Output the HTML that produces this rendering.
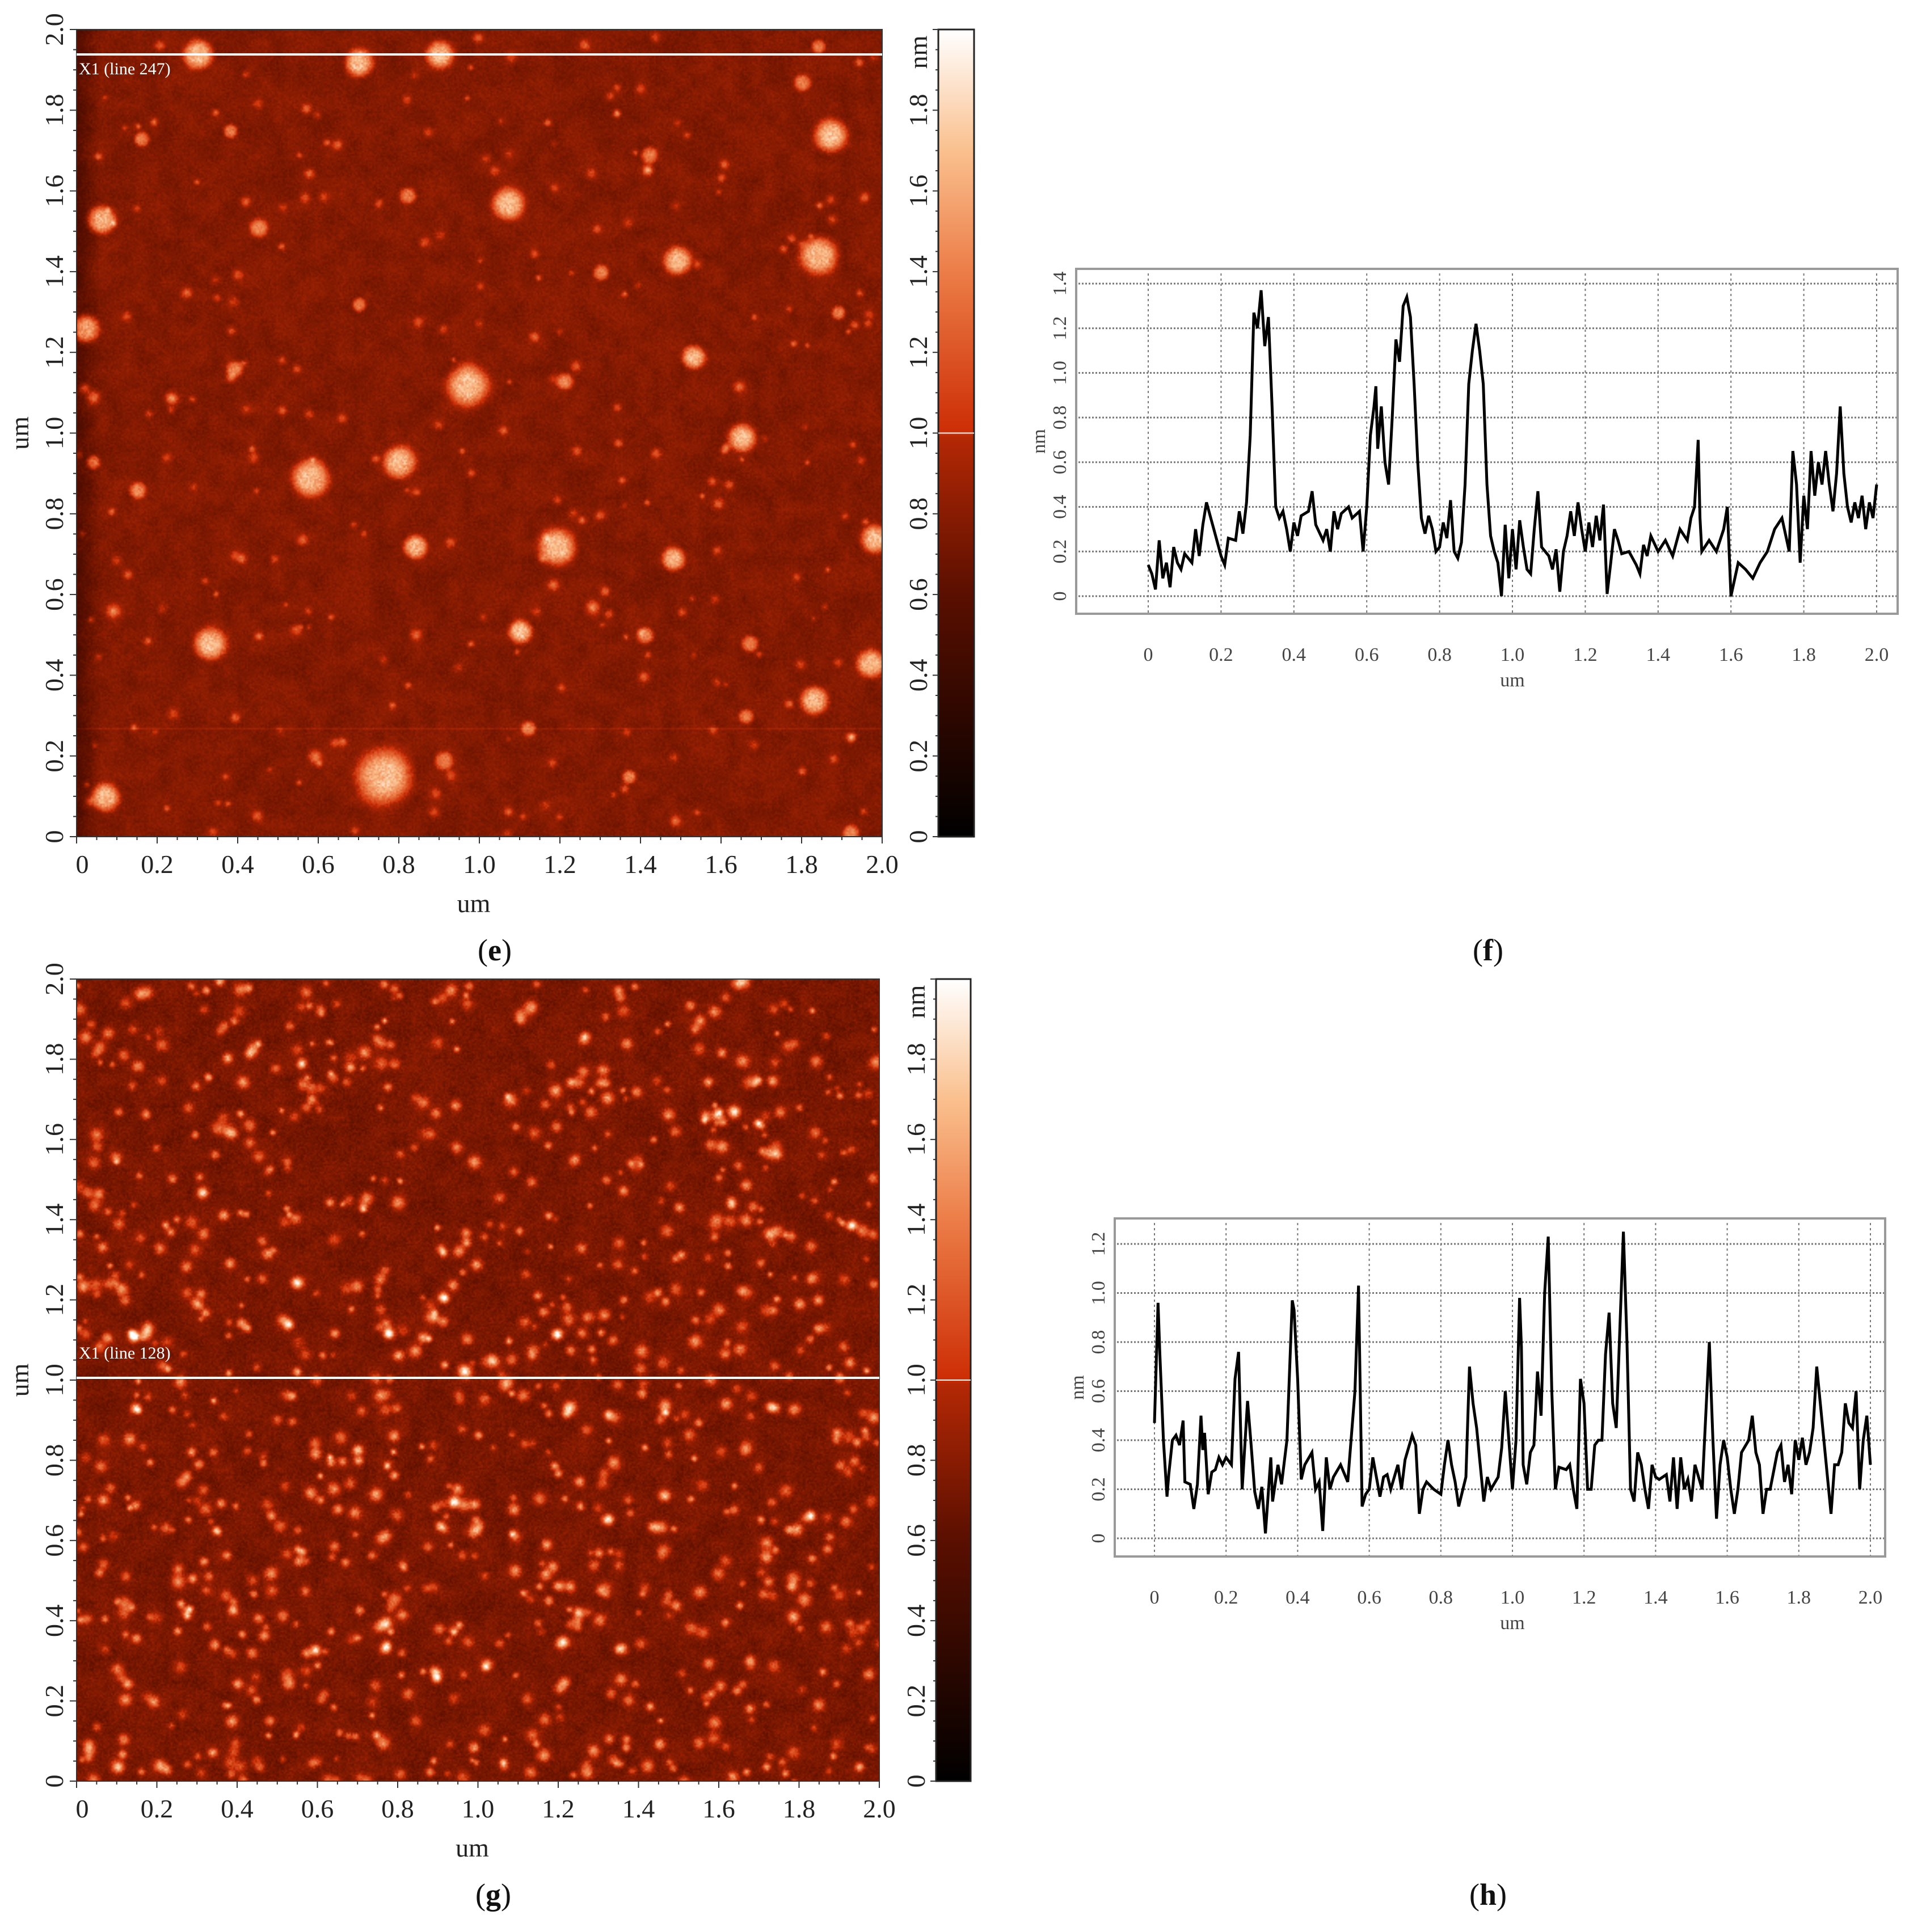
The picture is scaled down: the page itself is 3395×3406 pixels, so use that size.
<!DOCTYPE html>
<html><head><meta charset="utf-8">
<style>
html,body{margin:0;padding:0;background:#fff;}
body{width:3395px;height:3406px;position:relative;overflow:hidden;font-family:"Liberation Serif",serif;}
canvas{position:absolute;}
svg{position:absolute;left:0;top:0;}
</style></head>
<body>
<canvas id="afmE" width="512" height="512" style="left:135px;top:52px;width:1420px;height:1423px;"></canvas>
<canvas id="afmG" width="512" height="512" style="left:135px;top:1726px;width:1415px;height:1414px;"></canvas>
<svg id="main" width="3395" height="3406" viewBox="0 0 3395 3406" xmlns="http://www.w3.org/2000/svg"></svg>
<script>
// ---------- profile data (f) ----------
const fX = [0,0.01,0.02,0.03,0.04,0.05,0.06,0.07,0.08,0.09,0.10,0.12,0.13,0.14,0.15,0.16,0.18,0.20,0.21,0.22,0.24,0.25,0.26,0.27,0.28,0.29,0.30,0.31,0.32,0.33,0.34,0.35,0.36,0.37,0.38,0.39,0.40,0.41,0.42,0.44,0.45,0.46,0.48,0.49,0.50,0.51,0.52,0.53,0.55,0.56,0.58,0.59,0.60,0.61,0.62,0.625,0.63,0.64,0.65,0.66,0.67,0.68,0.69,0.70,0.71,0.72,0.73,0.74,0.75,0.76,0.77,0.78,0.79,0.80,0.81,0.82,0.83,0.84,0.85,0.86,0.87,0.88,0.89,0.90,0.91,0.92,0.93,0.94,0.95,0.96,0.97,0.98,0.99,1.00,1.01,1.02,1.03,1.04,1.05,1.06,1.07,1.08,1.10,1.11,1.12,1.13,1.14,1.15,1.16,1.17,1.18,1.19,1.20,1.21,1.22,1.23,1.24,1.25,1.26,1.27,1.28,1.29,1.30,1.32,1.34,1.35,1.36,1.37,1.38,1.40,1.42,1.44,1.46,1.48,1.49,1.50,1.51,1.515,1.52,1.54,1.56,1.58,1.59,1.60,1.62,1.64,1.66,1.68,1.70,1.72,1.74,1.76,1.77,1.78,1.79,1.80,1.81,1.82,1.83,1.84,1.85,1.86,1.87,1.88,1.89,1.90,1.91,1.92,1.93,1.94,1.95,1.96,1.97,1.98,1.99,2.00];
const fY = [0.14,0.10,0.03,0.25,0.08,0.15,0.04,0.22,0.15,0.12,0.19,0.15,0.30,0.18,0.32,0.42,0.30,0.18,0.14,0.26,0.25,0.38,0.28,0.42,0.72,1.27,1.20,1.37,1.12,1.25,0.85,0.40,0.35,0.38,0.30,0.20,0.33,0.27,0.36,0.38,0.47,0.32,0.25,0.30,0.20,0.38,0.30,0.37,0.40,0.35,0.38,0.20,0.40,0.72,0.85,0.94,0.66,0.85,0.60,0.50,0.80,1.15,1.05,1.30,1.34,1.25,0.95,0.60,0.35,0.28,0.36,0.30,0.20,0.22,0.33,0.26,0.43,0.20,0.17,0.24,0.50,0.95,1.10,1.22,1.10,0.95,0.50,0.27,0.20,0.15,0.00,0.32,0.08,0.30,0.12,0.34,0.22,0.12,0.10,0.30,0.47,0.22,0.18,0.12,0.21,0.02,0.20,0.27,0.38,0.27,0.42,0.30,0.20,0.33,0.22,0.36,0.25,0.41,0.01,0.15,0.30,0.25,0.19,0.20,0.14,0.10,0.23,0.18,0.27,0.20,0.25,0.18,0.30,0.25,0.35,0.40,0.70,0.35,0.20,0.25,0.20,0.30,0.40,0.00,0.15,0.12,0.08,0.15,0.20,0.30,0.35,0.20,0.65,0.50,0.15,0.45,0.30,0.65,0.45,0.60,0.50,0.65,0.50,0.38,0.55,0.85,0.55,0.40,0.33,0.42,0.35,0.45,0.30,0.42,0.35,0.50];
const fXTicks = ["0","0.2","0.4","0.6","0.8","1.0","1.2","1.4","1.6","1.8","2.0"];
const fYTicks = ["0","0.2","0.4","0.6","0.8","1.0","1.2","1.4"];
// ---------- profile data (h) ----------
const hX = [0,0.01,0.015,0.025,0.035,0.04,0.05,0.06,0.07,0.08,0.085,0.10,0.11,0.12,0.13,0.135,0.14,0.15,0.16,0.17,0.18,0.19,0.20,0.215,0.225,0.235,0.245,0.26,0.27,0.28,0.29,0.30,0.31,0.325,0.33,0.345,0.355,0.37,0.385,0.39,0.40,0.41,0.42,0.44,0.45,0.46,0.47,0.48,0.49,0.50,0.52,0.54,0.56,0.57,0.58,0.59,0.60,0.61,0.63,0.64,0.65,0.66,0.68,0.69,0.70,0.72,0.73,0.74,0.75,0.76,0.78,0.80,0.81,0.82,0.83,0.84,0.85,0.87,0.88,0.89,0.90,0.91,0.92,0.93,0.94,0.96,0.97,0.98,0.99,1.00,1.01,1.02,1.025,1.03,1.04,1.05,1.06,1.07,1.08,1.09,1.10,1.11,1.12,1.13,1.15,1.16,1.17,1.18,1.19,1.20,1.21,1.22,1.23,1.24,1.25,1.26,1.27,1.28,1.29,1.31,1.32,1.33,1.34,1.35,1.36,1.37,1.38,1.39,1.40,1.41,1.43,1.44,1.45,1.46,1.47,1.48,1.49,1.50,1.51,1.52,1.53,1.55,1.56,1.57,1.58,1.59,1.60,1.61,1.62,1.63,1.64,1.66,1.67,1.68,1.69,1.70,1.71,1.72,1.74,1.75,1.76,1.77,1.78,1.79,1.80,1.81,1.82,1.83,1.84,1.85,1.86,1.87,1.88,1.89,1.90,1.91,1.92,1.93,1.94,1.95,1.96,1.97,1.98,1.99,2.00];
const hY = [0.47,0.96,0.75,0.40,0.17,0.26,0.40,0.42,0.38,0.48,0.23,0.22,0.12,0.22,0.50,0.36,0.43,0.18,0.27,0.28,0.33,0.30,0.33,0.30,0.65,0.76,0.20,0.56,0.38,0.19,0.12,0.21,0.02,0.33,0.15,0.30,0.22,0.40,0.97,0.93,0.65,0.24,0.30,0.35,0.20,0.23,0.03,0.33,0.20,0.25,0.30,0.23,0.60,1.03,0.13,0.18,0.20,0.33,0.17,0.25,0.26,0.20,0.30,0.20,0.32,0.42,0.38,0.10,0.20,0.23,0.20,0.18,0.30,0.40,0.30,0.23,0.13,0.25,0.70,0.55,0.45,0.30,0.15,0.25,0.20,0.25,0.37,0.60,0.40,0.20,0.40,0.98,0.78,0.30,0.22,0.35,0.38,0.68,0.50,1.00,1.23,0.60,0.20,0.29,0.28,0.30,0.20,0.12,0.65,0.55,0.20,0.20,0.38,0.40,0.40,0.75,0.92,0.55,0.45,1.25,0.80,0.20,0.15,0.35,0.30,0.20,0.12,0.30,0.25,0.24,0.26,0.15,0.33,0.12,0.33,0.20,0.24,0.15,0.30,0.25,0.20,0.80,0.40,0.08,0.30,0.40,0.33,0.20,0.10,0.20,0.35,0.40,0.50,0.35,0.30,0.10,0.20,0.20,0.35,0.38,0.23,0.30,0.18,0.40,0.32,0.41,0.30,0.35,0.45,0.70,0.55,0.40,0.25,0.10,0.30,0.30,0.35,0.55,0.47,0.45,0.60,0.20,0.40,0.50,0.30];
const hXTicks = ["0","0.2","0.4","0.6","0.8","1.0","1.2","1.4","1.6","1.8","2.0"];
const hYTicks = ["0","0.2","0.4","0.6","0.8","1.0","1.2"];
// ---------- AFM image axes ----------
const imgTicks = ["0","0.2","0.4","0.6","0.8","1.0","1.2","1.4","1.6","1.8","2.0"];
const cbTicks = ["0","0.2","0.4","0.6","0.8","1.0","1.2","1.4","1.6","1.8"];
// particles in (e): x um, y um, radius um
const ePx = [0.30,0.70,0.90,1.84,1.80,1.87,0.16,0.38,1.42,0.82,1.07,0.06,0.45,1.49,1.84,1.30,0.70,1.89,0.02,1.53,0.39,0.97,1.21,0.04,1.65,0.80,0.58,0.04,0.15,1.98,1.19,0.84,1.48,1.28,0.09,0.33,1.10,1.41,1.67,1.97,1.83,1.12,1.66,0.76,0.91,0.07,0.59,1.37,1.92];
const ePy = [1.94,1.92,1.94,1.96,1.87,1.74,1.73,1.75,1.69,1.59,1.57,1.53,1.51,1.43,1.44,1.40,1.32,1.30,1.26,1.19,1.16,1.12,1.13,1.09,0.99,0.93,0.89,0.93,0.86,0.74,0.72,0.72,0.69,0.57,0.56,0.48,0.51,0.50,0.48,0.43,0.34,0.27,0.30,0.15,0.19,0.10,0.20,0.15,0.01];
const ePr = [0.032,0.03,0.03,0.015,0.018,0.035,0.016,0.015,0.018,0.018,0.035,0.03,0.02,0.03,0.04,0.017,0.015,0.015,0.03,0.025,0.018,0.045,0.018,0.014,0.03,0.035,0.04,0.015,0.018,0.03,0.04,0.025,0.025,0.014,0.014,0.035,0.025,0.018,0.018,0.03,0.03,0.016,0.016,0.06,0.02,0.03,0.014,0.015,0.018];

const svg = document.getElementById('main');
const NS = 'http://www.w3.org/2000/svg';
function mk(tag, attrs, parent){
  const e = document.createElementNS(NS, tag);
  for (const k in attrs) e.setAttribute(k, attrs[k]);
  (parent||svg).appendChild(e);
  return e;
}
function txt(str, x, y, size, opts, parent){
  opts = opts||{};
  const t = mk('text', {x:x, y:y, 'font-size':size, 'font-family':'"Liberation Serif", serif', fill:opts.fill||'#222', 'text-anchor':opts.anchor||'middle'}, parent);
  if (opts.rot) t.setAttribute('transform', 'rotate(-90 '+x+' '+y+')');
  t.textContent = str;
  return t;
}

// ---------- colormap ----------
const cmapStops = [[0,[0,0,0]],[0.6,[90,15,0]],[0.99,[180,40,5]],[1.0,[205,45,5]],[1.4,[236,125,72]],[1.7,[250,192,142]],[2.0,[255,255,255]]];
function cmap(h){
  if (h<=0) return cmapStops[0][1];
  for (let i=1;i<cmapStops.length;i++){
    if (h<=cmapStops[i][0]){
      const a=cmapStops[i-1], b=cmapStops[i], t=(h-a[0])/(b[0]-a[0]);
      return [a[1][0]+(b[1][0]-a[1][0])*t, a[1][1]+(b[1][1]-a[1][1])*t, a[1][2]+(b[1][2]-a[1][2])*t];
    }
  }
  return [255,255,255];
}
let seed = 12345;
function rnd(){ seed = (seed*1103515245+12345) & 0x7fffffff; return seed/0x7fffffff; }
function drawAFM(id, px, py, pr, pa, base, sdNoise, darkEdge, streak){
  const c = document.getElementById(id), N = 512, ctx = c.getContext('2d');
  const H = new Float32Array(N*N);
  const M = 65, coarse = new Float32Array(M*M);
  for (let i=0;i<M*M;i++) coarse[i]=(rnd()-0.5)*0.12;
  for (let j=0;j<N;j++) for (let i=0;i<N;i++){
    const fx=i/8, fy=j/8, ci=Math.floor(fx), cj=Math.floor(fy), tx=fx-ci, ty=fy-cj;
    const cv = coarse[cj*M+ci]*(1-tx)*(1-ty)+coarse[cj*M+ci+1]*tx*(1-ty)+coarse[(cj+1)*M+ci]*(1-tx)*ty+coarse[(cj+1)*M+ci+1]*tx*ty;
    let h = base + cv + (rnd()+rnd()-1)*sdNoise;
    const u = i/N*2;
    if (darkEdge && u<0.06) h -= 0.22*(1-u/0.06);
    H[j*N+i]=h;
  }
  if (streak){ const sj=Math.round((1-streak/2)*N); for (let i=0;i<N;i++){ H[sj*N+i]+=0.12; } }
  for (let k=0;k<px.length;k++){
    const cx=px[k]/2*N, cy=(1-py[k]/2)*N, r=pr[k]/2*N*1.1;
    const amp = pa ? pa[k] : (r>6 ? 0.95 : 0.65);
    for (let j=Math.max(0,Math.floor(cy-2*r));j<Math.min(N,Math.ceil(cy+2*r));j++)
      for (let i=Math.max(0,Math.floor(cx-2*r));i<Math.min(N,Math.ceil(cx+2*r));i++){
        const d=Math.hypot(i-cx,j-cy)/r;
        H[j*N+i] += amp*Math.exp(-Math.pow(d,(r>4?4:2)))*(0.8+0.3*rnd());
      }
  }
  const img = ctx.createImageData(N,N);
  for (let p=0;p<N*N;p++){ const col=cmap(H[p]); img.data[p*4]=col[0]; img.data[p*4+1]=col[1]; img.data[p*4+2]=col[2]; img.data[p*4+3]=255; }
  ctx.putImageData(img,0,0);
}
// e: main particles plus faint speckle texture
const eAllX=ePx.slice(), eAllY=ePy.slice(), eAllR=ePr.slice(), eAllA=ePr.map(r=>r>0.024?0.95:0.65);
for (let k=0;k<260;k++){ eAllX.push(rnd()*2); eAllY.push(rnd()*2); eAllR.push(0.005+rnd()*0.007); eAllA.push(0.25+rnd()*0.3); }
drawAFM('afmE', eAllX, eAllY, eAllR, eAllA, 0.78, 0.09, true, 0.27);
// g: dense small grains (texture)
const gPx=[], gPy=[], gPr=[], gPa=[];
for (let k=0;k<1100;k++){ gPx.push(rnd()*2); gPy.push(rnd()*2); gPr.push(0.006+rnd()*0.008); gPa.push(0.35+rnd()*0.55); }
drawAFM('afmG', gPx, gPy, gPr, gPa, 0.74, 0.12, false, 0);

// ---------- gradient def ----------
const defs = mk('defs', {});
const grad = mk('linearGradient', {id:'cbar', x1:0, y1:1, x2:0, y2:0}, defs);
cmapStops.forEach(s=>{ const c=s[1]; mk('stop', {offset:(s[0]/2), 'stop-color':'rgb('+c.map(Math.round).join(',')+')'}, grad); });

// ---------- AFM panel axes ----------
function afmPanel(tag, L, T, W, Hh, cbL, cbW, scanY, scanLabel, labelY, letter, letterY){
  const g = mk('g', {});
  
  
  const xs = v => L + v/2*W, ys = v => T + Hh - v/2*Hh;
  mk('rect', {x:L, y:T, width:W, height:Hh, fill:'none', stroke:'#333', 'stroke-width':2}, g);
  for (let k=0;k<=40;k++){
    const v=k*0.05, major=k%4===0;
    mk('line', {x1:xs(v), x2:xs(v), y1:T+Hh, y2:T+Hh+(major?12:6), stroke:'#333', 'stroke-width':2}, g);
    mk('line', {x1:L, x2:L-(major?12:6), y1:ys(v), y2:ys(v), stroke:'#333', 'stroke-width':2}, g);
  }
  imgTicks.forEach((s,i)=>{
    const v=i*0.2;
    const t1 = txt(s, xs(v)+(i===0?10:0), T+Hh+64, 46, {}, g);
    
    
    const t2 = txt(s, L-24, ys(v), 46, {rot:true}, g);
    
    
  });
  const xl = txt('um', L+W/2-10, T+Hh+133, 46, {}, g);
  
  
  const yl = txt('um', 50, T+Hh/2, 46, {rot:true}, g);
  
  
  const sl = mk('line', {x1:L, x2:L+W, y1:scanY, y2:scanY, stroke:'#fff', 'stroke-width':4}, g);
  
  
  const st = txt(scanLabel, L+4, labelY, 30, {anchor:'start', fill:'#fff'}, g);
  
  
  const cb = mk('rect', {x:cbL, y:T, width:cbW, height:Hh, fill:'url(#cbar)', stroke:'#222', 'stroke-width':3}, g);
  
  
  mk('line', {x1:cbL, x2:cbL+cbW, y1:ys(1.0), y2:ys(1.0), stroke:'#fff', 'stroke-width':2}, g);
  for (let k=0;k<=40;k++){ const v=k*0.05; mk('line', {x1:cbL, x2:cbL-((k%4===0)?10:5), y1:ys(v), y2:ys(v), stroke:'#333', 'stroke-width':2}, g); }
  cbTicks.forEach((s,i)=>{
    const t = txt(s, cbL-20, ys(i*0.2), 46, {rot:true}, g);
    
    
  });
  const nm = txt('nm', cbL-20, T+40, 46, {rot:true}, g);
  
  
  const lt = mk('text', {x:L+W/2+27, y:letterY, 'font-size':54, 'text-anchor':'middle', 'font-family':'"Liberation Serif", serif', fill:'#111'}, svg);
  lt.innerHTML = '(<tspan font-weight="bold">'+letter+'</tspan>)';
  
  
}
afmPanel('e', 135, 52, 1420, 1423, 1654, 63, 96, 'X1 (line 247)', 131, 'e', 1693);
afmPanel('g', 135, 1726, 1415, 1414, 1650, 61, 2429, 'X1 (line 128)', 2395, 'g', 3358);

// ---------- profile charts ----------
function profile(tag, fr, ax, X, Y, xt, yt, yMax, letter, letterX, letterY){
  const g = mk('g', {});
  
  
  const xs = v => ax.x0 + v/2*(ax.x1-ax.x0);
  const ys = v => ax.y0 - v/yMax*(ax.y0-ax.y1);
  const frame = mk('rect', {x:fr.l, y:fr.t, width:fr.r-fr.l, height:fr.b-fr.t, fill:'#fff', stroke:'#999', 'stroke-width':4}, g);
  
  
  xt.forEach((s,i)=>{
    const v=parseFloat(s);
    const gl = mk('line', {x1:xs(v), x2:xs(v), y1:fr.t+8, y2:fr.b-2, stroke:'#777', 'stroke-width':2, 'stroke-dasharray':'4 5'}, g);
    
    
    const t = txt(s, xs(v), fr.b+83, 34, {fill:'#444'}, g);
    
    
  });
  yt.forEach((s,i)=>{
    const v=parseFloat(s);
    const gl = mk('line', {x1:fr.l+4, x2:fr.r-2, y1:ys(v), y2:ys(v), stroke:'#777', 'stroke-width':3, 'stroke-dasharray':'3 3'}, g);
    
    
    const t = txt(s, fr.l-18, ys(v), 34, {rot:true, fill:'#444'}, g);
    
    
  });
  const xl = txt('um', (ax.x0+ax.x1)/2, fr.b+128, 34, {fill:'#444'}, g);
  
  
  const yl = txt('nm', fr.l-55, (fr.t+fr.b)/2, 34, {rot:true, fill:'#444'}, g);
  
  
  const pts = X.map((x,i)=>xs(x).toFixed(1)+','+ys(Y[i]).toFixed(1)).join(' ');
  const line = mk('polyline', {points:pts, fill:'none', stroke:'#000', 'stroke-width':5, 'stroke-linejoin':'miter'}, g);
  
  
  const lt = mk('text', {x:letterX, y:letterY, 'font-size':54, 'text-anchor':'middle', 'font-family':'"Liberation Serif", serif', fill:'#111'}, svg);
  lt.innerHTML = '(<tspan font-weight="bold">'+letter+'</tspan>)';
  
  
}
profile('f', {l:1897,t:474,r:3345,b:1082}, {x0:2024,x1:3308,y0:1051,y1:500}, fX, fY, fXTicks, fYTicks, 1.4, 'f', 2623, 1693);
profile('h', {l:1965,t:2148,r:3323,b:2744}, {x0:2035,x1:3297,y0:2712,y1:2193}, hX, hY, hXTicks, hYTicks, 1.2, 'h', 2623, 3358);
</script>
</body></html>
